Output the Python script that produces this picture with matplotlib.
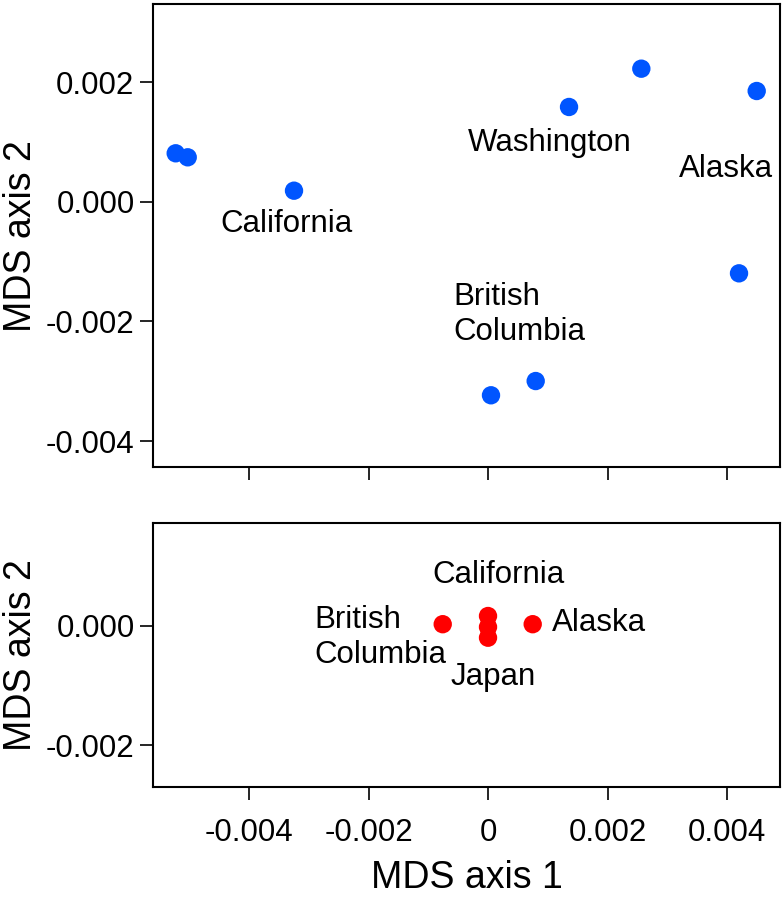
import matplotlib
matplotlib.use("Agg")
import matplotlib.pyplot as plt

plt.rcParams['font.family'] = ['Liberation Sans', 'DejaVu Sans']

# Top panel (blue) data
top_x = [-0.005227, -0.005026, -0.003247, 0.002566, 0.001356, 0.004497, 0.004201, 0.000798, 0.000050]
top_y = [0.000809, 0.000742, 0.000184, 0.002223, 0.001583, 0.001850, -0.001197, -0.002997, -0.003235]
top_labels = ["California", "Washington", "Alaska", "British\nColumbia"]
top_label_x = [-0.003381, 0.001038, 0.003978, -0.000581]
top_label_y = [-0.000378, 0.000976, 0.000547, -0.001880]
top_label_ha = ["center", "center", "center", "left"]

# Bottom panel (red) data
bot_x = [-0.000758, 0.0, 0.0, 0.0, 0.000748]
bot_y = [0.000030, 0.000167, -0.000017, -0.000196, 0.000030]
bot_labels = ["California", "Japan", "Alaska", "British\nColumbia"]
bot_label_x = [0.000172, 0.000078, 0.001066, -0.002912]
bot_label_y = [0.000854, -0.000848, 0.000045, -0.000198]
bot_label_ha = ["center", "center", "left", "left"]

x_ticks = [-0.004, -0.002, 0, 0.002, 0.004]
x_ticklabels = ["-0.004", "-0.002", "0", "0.002", "0.004"]
top_yticks = [0.002, 0.0, -0.002, -0.004]
top_yticklabels = ["0.002", "0.000", "-0.002", "-0.004"]
bot_yticks = [0.0, -0.002]
bot_yticklabels = ["0.000", "-0.002"]

fig = plt.figure(figsize=(7.83, 9.05), dpi=100)
W, H = 783, 905
def rect(l, t, r, b):
    return [l / W, 1 - b / H, (r - l) / W, (b - t) / H]

ax1 = fig.add_axes(rect(153.3, 4.3, 780, 467.5))
ax2 = fig.add_axes(rect(153.3, 523, 780, 787))

xlim = (-0.005602, 0.004887)
fs = 22.5

for ax in (ax1, ax2):
    ax.set_xlim(*xlim)
    for s in ax.spines.values():
        s.set_linewidth(1.5)
        s.set_color('black')
    ax.tick_params(direction='out', length=9.5, width=1.2, labelsize=fs, pad=4)
    ax.set_xticks(x_ticks)

ax1.set_ylim(-0.004442, 0.003299)
ax2.set_ylim(-0.002695, 0.001724)

ax1.scatter(top_x, top_y, s=175, color='#0055FF', edgecolors='none', zorder=3)
ax2.scatter(bot_x, bot_y, s=175, color='#FF0000', edgecolors='none', zorder=3)

for t, x, y, ha in zip(top_labels, top_label_x, top_label_y, top_label_ha):
    ax1.text(x, y, t, ha=ha, va='center', fontsize=fs, multialignment='left', linespacing=1.22)
for t, x, y, ha in zip(bot_labels, bot_label_x, bot_label_y, bot_label_ha):
    ax2.text(x, y, t, ha=ha, va='center', fontsize=fs, multialignment='left', linespacing=1.22)

ax1.set_xticklabels([])
ax1.set_yticks(top_yticks)
ax1.set_yticklabels(top_yticklabels)
ax2.set_xticklabels(x_ticklabels)
ax2.tick_params(axis='x', pad=13)
ax2.set_yticks(bot_yticks)
ax2.set_yticklabels(bot_yticklabels)

ax1.set_ylabel("MDS axis 2", fontsize=27, va='center')
ax2.set_ylabel("MDS axis 2", fontsize=27, va='center')
ax2.set_xlabel("MDS axis 1", fontsize=27, va='center')
ax1.yaxis.set_label_coords((21 - 153.3) / 626.7, 0.5)
ax2.yaxis.set_label_coords((21 - 153.3) / 626.7, 0.5)
ax2.xaxis.set_label_coords(0.5, -(878 - 787) / 264)

fig.savefig("out.png", dpi=100)
